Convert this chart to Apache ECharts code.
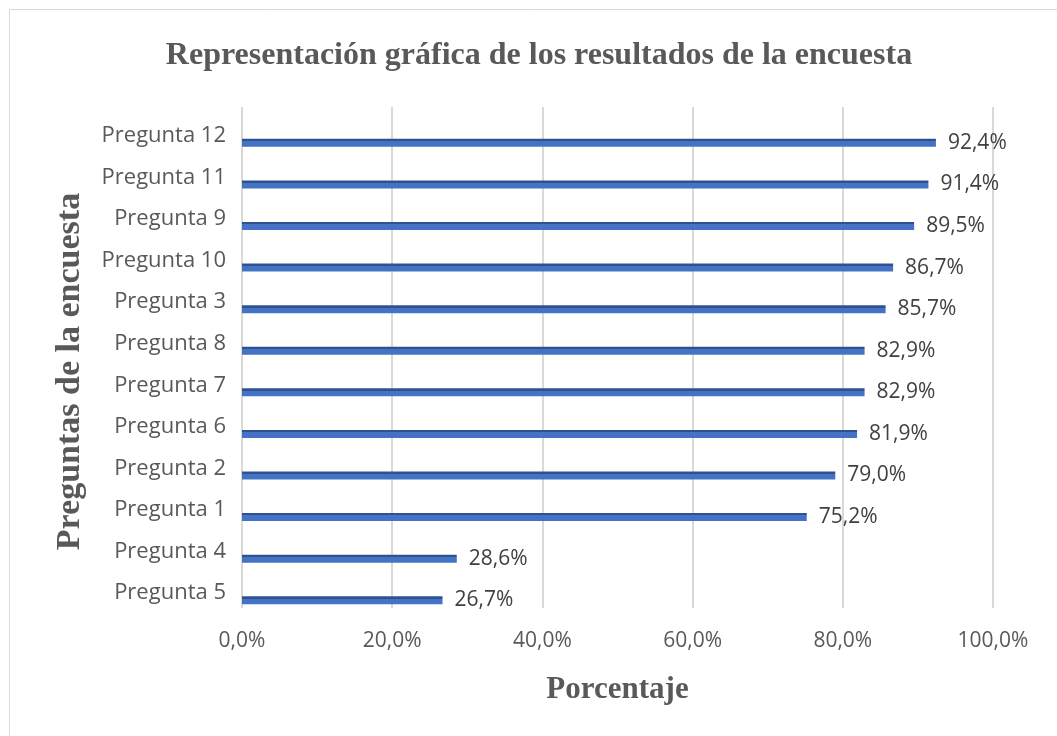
<!DOCTYPE html>
<html><head><meta charset="utf-8">
<script src="https://cdn.jsdelivr.net/npm/echarts@6/dist/echarts.min.js"></script>
<style>html,body{margin:0;padding:0;background:#fff}#c{width:1057px;height:736px}</style>
</head><body><div id="c"></div>
<script>
const categories = ['Pregunta 5','Pregunta 4','Pregunta 1','Pregunta 2','Pregunta 6','Pregunta 7','Pregunta 8','Pregunta 3','Pregunta 10','Pregunta 9','Pregunta 11','Pregunta 12'];
const values = [26.7, 28.6, 75.2, 79.0, 81.9, 82.9, 82.9, 85.7, 86.7, 89.5, 91.4, 92.4];
const xTicks = [0, 20, 40, 60, 80, 100];
const titleText = 'Representación gráfica de los resultados de la encuesta';
const xName = 'Porcentaje';
const yName = 'Preguntas de la encuesta';

const fmt = v => v.toFixed(1).replace('.', ',') + '%';
const chart = echarts.init(document.getElementById('c'));
chart.setOption({
  animation: false,
  backgroundColor: '#fff',
  graphic: [{type:'rect', shape:{x:9.5,y:9.5,width:1100,height:800}, style:{fill:'none',stroke:'#d9d9d9',lineWidth:1}, silent:true}],
  title: {text: titleText, left: 534, textAlign:'center', top: 35, textStyle:{fontFamily:'Liberation Serif', fontWeight:'bold', fontSize:32, color:'#595959'}},
  grid: [
    {left:242, right:64, top:122, bottom:115},
    {left:242, right:64, top:107, bottom:128}
  ],
  xAxis: [
    {gridIndex:0, type:'value', min:0, max:100, interval:20, show:false, splitLine:{show:false}},
    {gridIndex:1, type:'value', min:0, max:100, interval:20,
     name: xName, nameLocation:'middle', nameGap:66,
     nameTextStyle:{fontFamily:'Liberation Serif', fontWeight:'bold', fontSize:31, color:'#595959'},
     axisLine:{show:false}, axisTick:{show:false},
     axisLabel:{formatter: v => xTicks.includes(v) ? fmt(v) : '', margin:23, fontFamily:'Open Sans', fontSize:21, color:'#595959'},
     splitLine:{show:true, lineStyle:{color:'#d9d9d9', width:2}}}
  ],
  yAxis: [
    {gridIndex:0, type:'category', data: categories,
     name: yName, nameLocation:'middle', nameGap:155, nameRotate:90,
     nameTextStyle:{fontFamily:'Liberation Serif', fontWeight:'bold', fontSize:34, color:'#595959'},
     axisLine:{show:false}, axisTick:{show:false},
     axisLabel:{margin:16, fontFamily:'Open Sans', fontSize:22, color:'#595959', verticalAlign:'bottom', lineHeight:14}},
    {gridIndex:1, type:'value', show:false, splitLine:{show:false}}
  ],
  series: [{
    type:'bar', xAxisIndex:0, yAxisIndex:0, data: values, barWidth:8,
    itemStyle:{color: new echarts.graphic.LinearGradient(0,0,0,1,[
      {offset:0, color:'#2F528F'},{offset:0.3, color:'#2F528F'},{offset:0.3, color:'#4472C4'},{offset:1, color:'#4472C4'}])},
    label:{show:true, position:'right', distance:12, formatter: p => fmt(p.value), fontFamily:'Open Sans', fontSize:21, color:'#404040', padding:[5,0,0,0]}
  }]
});
</script></body></html>
